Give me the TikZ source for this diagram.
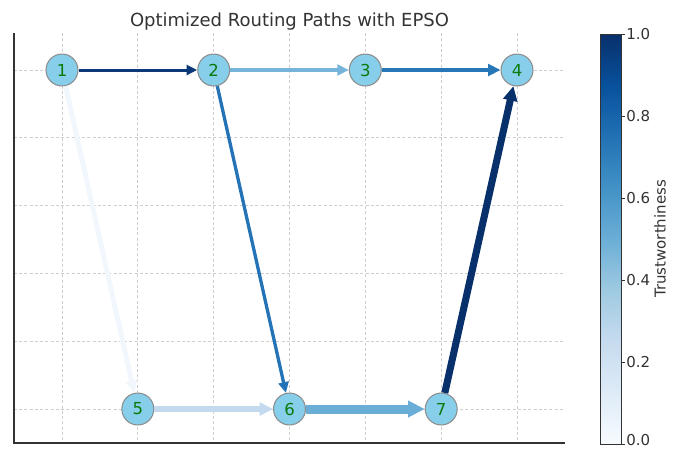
\documentclass[tikz,border=0pt]{standalone}
\usepackage{fontspec}
\setmainfont{DejaVu Sans}
\usetikzlibrary{arrows.meta, positioning}

\definecolor{nodeblue}{HTML}{87CEEB}
\definecolor{nodeedge}{HTML}{8C8C8C}
\definecolor{labelgreen}{HTML}{0A7A0A}
\definecolor{gridgray}{HTML}{CFCFCF}
\definecolor{inkgray}{HTML}{333333}
% Blues colormap
\definecolor{bl0}{HTML}{F7FBFF}
\definecolor{bl1}{HTML}{DEEBF7}
\definecolor{bl2}{HTML}{C6DBEF}
\definecolor{bl3}{HTML}{9ECAE1}
\definecolor{bl4}{HTML}{6BAED6}
\definecolor{bl5}{HTML}{4292C6}
\definecolor{bl6}{HTML}{2171B5}
\definecolor{bl7}{HTML}{08519C}
\definecolor{bl8}{HTML}{08306B}
% edge colours (trust values)
\definecolor{trustAB}{HTML}{0B3878}
\definecolor{trustBC}{HTML}{76B4D9}
\definecolor{trustCD}{HTML}{2676B8}
\definecolor{trustAE}{HTML}{F1F7FD}
\definecolor{trustBF}{HTML}{2473B6}
\definecolor{trustEF}{HTML}{C2D9EE}
\definecolor{trustFG}{HTML}{6AADD6}
\definecolor{trustGD}{HTML}{08306B}

\pgfdeclareverticalshading{bluesbar}{100bp}{color(0bp)=(bl0); color(25bp)=(bl0);
  color(31.25bp)=(bl1); color(37.5bp)=(bl2); color(43.75bp)=(bl3); color(50bp)=(bl4);
  color(56.25bp)=(bl5); color(62.5bp)=(bl6); color(68.75bp)=(bl7); color(75bp)=(bl8);
  color(100bp)=(bl8)}

\tikzset{
  netnode/.style={circle, draw=nodeedge, line width=0.7pt, fill=nodeblue, minimum size=21.3pt,
    inner sep=0pt, text=labelgreen, font=\fontsize{11}{13}\selectfont},
  route/.style={-{Triangle[length=5pt 1, width=4.5pt 1]}},
  gridline/.style={gridgray, line width=0.5pt, dash pattern=on 2pt off 1.5pt},
}

\begin{document}
\begin{tikzpicture}[x=0.6667pt, y=-0.6667pt, font=\fontsize{10}{12}\selectfont, text=inkgray]
				\useasboundingbox (0,0) rectangle (682,448);
				\clip (0,0) rectangle (682,448);
				
				\foreach \gx in {0,...,6}
					\draw[gridline] (62+75.83*\gx, 33) -- (62+75.83*\gx, 443);
				\foreach \gy in {0,...,5}
					\draw[gridline] (14, 409-67.8*\gy) -- (565, 409-67.8*\gy);
				\draw[inkgray, line width=0.8pt] (14, 33) -- (14, 443) -- (565, 443);
				
				\node[font=\fontsize{12}{14}\selectfont, anchor=base] (title) at (289.5, 26.5) {Optimized Routing Paths with EPSO};
				
				\node[netnode] (n1) at (62, 70) {1};
				\node[netnode] (n2) at (213.7, 70) {2};
				\node[netnode] (n3) at (365.3, 70) {3};
				\node[netnode] (n4) at (517, 70) {4};
				\node[netnode] (n5) at (137.8, 409) {5};
				\node[netnode] (n6) at (289.5, 409) {6};
				\node[netnode] (n7) at (441.2, 409) {7};
				
				\draw[route, line width=2pt, trustAB] (n1) -- (n2);
				\draw[route, line width=2.7pt, trustBC] (n2) -- (n3);
				\draw[route, line width=3.3pt, trustCD] (n3) -- (n4);
				\draw[route, line width=3.3pt, trustAE] (n1) -- (n5);
				\draw[route, line width=2.2pt, trustBF] (n2) -- (n6);
				\draw[route, line width=4pt, trustEF] (n5) -- (n6);
				\draw[route, line width=6pt, trustFG] (n6) -- (n7);
				\draw[route, line width=4.7pt, trustGD] (n7) -- (n4);
				
				\node[draw=inkgray, line width=0.6pt, shading=bluesbar, minimum width=14pt, minimum height=273.3pt,
					inner sep=0pt] (cbar) at (610.5, 239) {};
				\foreach \v/\ty [count=\k] in {0.0/444, 0.2/362, 0.4/280, 0.6/198, 0.8/116, 1.0/34} {
					\draw[inkgray, line width=0.6pt] (621, \ty) -- (624.5, \ty);
				}
				\foreach \v/\ty [count=\k] in {0.0/440, 0.2/362, 0.4/280, 0.6/198, 0.8/116, 1.0/34} {
					\node[anchor=west, inner sep=0pt] (tick\k) at (626, \ty) {\v};
				}
				\node[rotate=90] (cbarlabel) at (660, 239) {Trustworthiness};
			\end{tikzpicture}
\end{document}
